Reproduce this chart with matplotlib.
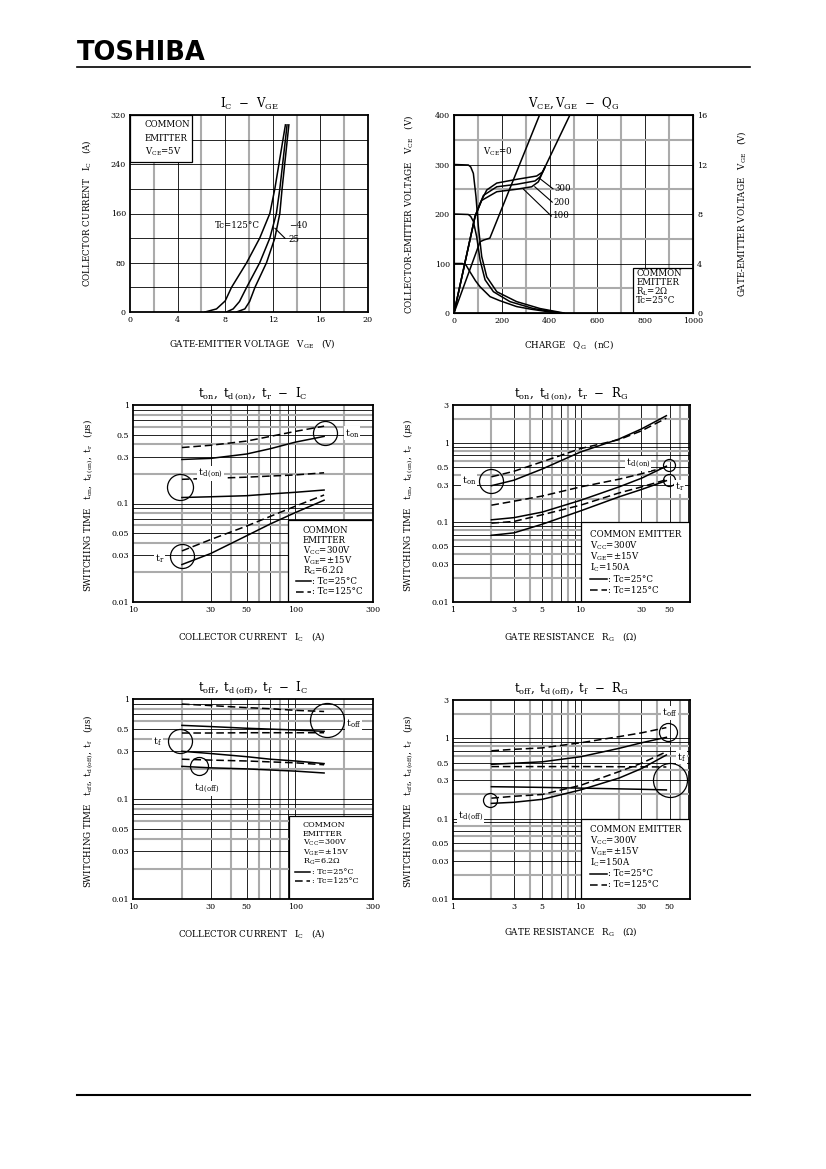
import matplotlib
matplotlib.use("Agg")
import matplotlib.pyplot as plt
from matplotlib.patches import Rectangle
from matplotlib.lines import Line2D
from matplotlib.ticker import NullLocator
import numpy as np

plt.rcParams['font.family'] = 'DejaVu Serif'
plt.rcParams['mathtext.fontset'] = 'dejavuserif'

# ---- IC - VGE ----
vge_125 = [6.3, 7.27, 8.0, 8.53, 9.8, 10.9, 11.75, 12.17, 13.06]
ic_125 = [0, 5, 18, 40, 80, 120, 160, 200, 304]
vge_25 = [8.1, 8.67, 9.2, 9.8, 10.9, 11.75, 12.3, 12.59, 13.2]
ic_25 = [0, 5, 17, 40, 80, 120, 160, 200, 304]
vge_m40 = [8.95, 9.65, 10.05, 10.5, 11.47, 12.17, 12.59, 12.78, 13.35]
ic_m40 = [0, 5, 17, 40, 80, 120, 160, 200, 304]

# ---- VCE, VGE - QG ----
q_vce300 = [0, 60, 70, 81, 92, 102, 116, 137, 179, 262, 360, 460]
vce300 = [300, 299, 295, 282, 235, 174, 114, 73, 43, 23, 9, 0]
q_vce200 = [0, 60, 70, 81, 95, 109, 130, 165, 234, 332, 450]
vce200 = [200, 199, 195, 185, 154, 107, 67, 43, 23, 9, 0]
q_vce100 = [0, 35, 50, 67, 90, 109, 151, 191, 262, 318, 430]
vce100 = [100, 100, 97, 83, 65, 53, 33, 25, 13, 8, 0]
q_vge0 = [0, 109, 125, 150, 358]
vge_vce0 = [0, 5.76, 5.9, 6.05, 16]
q_vge300 = [0, 88, 109, 137, 179, 262, 346, 371, 485]
vge_vce300 = [0, 7.8, 8.86, 9.94, 10.5, 10.8, 11.07, 11.4, 16]
q_vge200 = [0, 88, 123, 179, 262, 339, 360, 381]
vge_vce200 = [0, 7.8, 9.5, 10.2, 10.4, 10.67, 11.0, 11.8]
q_vge100 = [0, 88, 116, 179, 262, 325, 353, 378]
vge_vce100 = [0, 7.8, 9.1, 9.8, 10.0, 10.2, 10.6, 11.68]

# ---- ton, td(on), tr - IC ----
ic_sw = [20, 30, 50, 70, 100, 150]
ton_25 = [0.28, 0.287, 0.318, 0.36, 0.42, 0.48]
ton_125 = [0.37, 0.39, 0.43, 0.48, 0.54, 0.61]
tdon_25 = [0.115, 0.117, 0.12, 0.125, 0.13, 0.137]
tdon_125 = [0.176, 0.18, 0.185, 0.19, 0.195, 0.205]
tr_25 = [0.024, 0.031, 0.047, 0.062, 0.081, 0.108]
tr_125 = [0.033, 0.043, 0.059, 0.074, 0.094, 0.122]

# ---- ton, td(on), tr - RG ----
rg = [2, 3, 5, 10, 20, 30, 47]
ton_rg_25 = [0.29, 0.34, 0.47, 0.77, 1.12, 1.5, 2.2]
ton_rg_125 = [0.375, 0.44, 0.58, 0.85, 1.1, 1.42, 2.05]
tdon_rg_25 = [0.108, 0.115, 0.135, 0.19, 0.28, 0.36, 0.51]
tdon_rg_125 = [0.165, 0.185, 0.215, 0.28, 0.35, 0.41, 0.50]
tr_rg_25 = [0.069, 0.074, 0.095, 0.14, 0.21, 0.26, 0.335]
tr_rg_125 = [0.098, 0.103, 0.125, 0.165, 0.235, 0.28, 0.345]

# ---- toff, td(off), tf - IC ----
toff_125 = [0.89, 0.86, 0.82, 0.80, 0.77, 0.75]
toff_25 = [0.545, 0.53, 0.51, 0.50, 0.49, 0.475]
tf_125 = [0.457, 0.457, 0.46, 0.46, 0.46, 0.46]
tf_25 = [0.30, 0.285, 0.265, 0.25, 0.24, 0.226]
tdoff_125 = [0.25, 0.245, 0.24, 0.235, 0.23, 0.22]
tdoff_25 = [0.212, 0.205, 0.2, 0.195, 0.19, 0.182]

# ---- toff, td(off), tf - RG ----
toff_rg_125 = [0.70, 0.73, 0.76, 0.88, 1.05, 1.17, 1.36]
toff_rg_25 = [0.475, 0.49, 0.51, 0.59, 0.75, 0.88, 1.03]
tf_rg_125 = [0.445, 0.445, 0.445, 0.445, 0.443, 0.442, 0.44]
tf_rg_25 = [0.25, 0.248, 0.245, 0.24, 0.235, 0.232, 0.228]
tdoff_rg_125 = [0.18, 0.19, 0.2, 0.26, 0.385, 0.49, 0.68]
tdoff_rg_25 = [0.155, 0.16, 0.174, 0.228, 0.32, 0.42, 0.62]

W, H = 826, 1169
DASH = (0, (5, 2.5))
LW = 1.1
AXFS = 6.3
fig = plt.figure(figsize=(W / 100, H / 100), dpi=100)


def rect(l, t, r, b):
    return [l / W, 1 - b / H, (r - l) / W, (b - t) / H]


def is_gray(v):
    d = 10 ** np.floor(np.log10(v))
    return int(round(v / d)) % 2 == 0


def grid(ax, xs, ys, gx=lambda v: False, gy=lambda v: False):
    for v in xs:
        c, w = ('#ababab', 1.5) if gx(v) else ('k', 0.6)
        ax.axvline(v, color=c, lw=w, zorder=1)
    for v in ys:
        c, w = ('#ababab', 1.5) if gy(v) else ('k', 0.6)
        ax.axhline(v, color=c, lw=w, zorder=1)


def style(ax, title):
    for s in ax.spines.values():
        s.set_linewidth(1.3)
        s.set_zorder(6)
    ax.tick_params(length=0, pad=3, labelsize=5.8)
    ax.text(0.5, 1.058, title, transform=ax.transAxes, ha='center',
            va='center', fontsize=8.5)


def circ(ax, x, y, r):
    ax.plot([x], [y], 'o', ms=2 * r * 0.72, mfc='none', mec='k', mew=0.9,
            zorder=4)


def label(ax, x, y, s, ha='left', size=7):
    ax.text(x, y, s, ha=ha, va='center', fontsize=size, zorder=5,
            bbox=dict(fc='white', ec='none', pad=0.6))


def logaxes(pos, xlim, xt, ylim, yt):
    ax = fig.add_axes(rect(*pos))
    ax.set_xscale('log')
    ax.set_yscale('log')
    ax.set_xlim(*xlim)
    ax.set_ylim(*ylim)
    ax.set_xticks(xt, [f'{v:g}' for v in xt])
    ax.set_yticks(yt, [f'{v:g}' for v in yt])
    ax.xaxis.set_minor_locator(NullLocator())
    ax.yaxis.set_minor_locator(NullLocator())
    return ax


def legend_box(ax, x0, y0, lines, step, lx0, lx1, lt, fs=6.2):
    for i, s in enumerate(lines):
        ax.text(x0, y0 - i * step, s, transform=ax.transAxes, fontsize=fs,
                va='center', zorder=5)
    n = len(lines)
    for j, (ls, s) in enumerate([('-', ': Tc=25°C'), (DASH, ': Tc=125°C')]):
        y = y0 - (n + j) * step
        ax.plot([lx0, lx1], [y, y], transform=ax.transAxes, color='k',
                lw=1.1, ls=ls, zorder=5)
        ax.text(lt, y, s, transform=ax.transAxes, fontsize=fs, va='center',
                zorder=5)


# header
fig.text(77 / W, 1 - 53 / H, 'TOSHIBA', fontsize=18.5, fontweight='bold',
         family='DejaVu Sans', va='center', ha='left')
fig.add_artist(Line2D([77 / W, 750 / W], [1 - 67 / H] * 2, color='k', lw=1.2))
fig.add_artist(Line2D([77 / W, 750 / W], [1 - 1095 / H] * 2, color='k', lw=1.5))

# ================= IC - VGE =================
axA = fig.add_axes(rect(130, 115, 368, 312))
axA.set_xlim(0, 20)
axA.set_ylim(0, 320)
grid(axA, range(2, 20, 2), range(40, 320, 40), gx=lambda v: v % 4 == 2)
axA.set_xticks(range(0, 21, 4))
axA.set_yticks(range(0, 321, 80))
for vx, vy in [(vge_125, ic_125), (vge_25, ic_25), (vge_m40, ic_m40)]:
    axA.plot(vx, vy, color='k', lw=LW, zorder=3)
axA.add_patch(Rectangle((0, 244), 5.18, 76, fc='white', ec='k', lw=0.9, zorder=2))
for s, y in zip(['COMMON', 'EMITTER', r'$\mathrm{V_{CE}}$=5V'], [304, 282, 260]):
    axA.text(1.26, y, s, fontsize=6.2, va='center', zorder=5)
axA.text(7.14, 140, 'Tc=125°C', fontsize=6.2, va='center', zorder=5)
axA.text(13.4, 140, '−40', fontsize=6.2, va='center', zorder=5)
axA.text(13.3, 117, '25', fontsize=6.2, va='center', zorder=5)
axA.plot([13.03, 12.18], [119.7, 136], color='k', lw=0.8, zorder=3)
style(axA, r'$\mathrm{I_C}$  −  $\mathrm{V_{GE}}$')
axA.set_ylabel(r'COLLECTOR CURRENT   $\mathrm{I_C}$   (A)', fontsize=AXFS)
axA.yaxis.set_label_coords(-0.155, 0.5)
axA.set_xlabel(r'GATE-EMITTER VOLTAGE   $\mathrm{V_{GE}}$   (V)', fontsize=AXFS)
axA.xaxis.set_label_coords(0.514, -0.127)

# ================= VCE, VGE - QG =================
axB = fig.add_axes(rect(454, 115, 693, 313))
axB.set_xlim(0, 1000)
axB.set_ylim(0, 400)
grid(axB, range(100, 1000, 100), range(50, 400, 50),
     gx=lambda v: v % 200 == 100, gy=lambda v: v % 100 == 50)
axB.set_xticks(range(0, 1001, 200))
axB.set_yticks(range(0, 401, 100))
for q, v in [(q_vce300, vce300), (q_vce200, vce200), (q_vce100, vce100)]:
    axB.plot(q, v, color='k', lw=LW, zorder=3)
axB.add_patch(Rectangle((750, 0), 250, 90, fc='white', ec='k', lw=0.9, zorder=2))
for s, y in zip(['COMMON', 'EMITTER', r'$\mathrm{R_L}$=2Ω', 'Tc=25°C'],
                [80, 62, 43, 25]):
    axB.text(762, y, s, fontsize=6.2, va='center', zorder=5)
axB.text(121, 326, r'$\mathrm{V_{CE}}$=0', fontsize=6.2, va='center', zorder=5)
for s, (tx, ty), (px, py) in zip(['300', '200', '100'],
                                 [(414, 251), (411, 224), (407, 196)],
                                 [(358, 272), (338, 255), (291, 250)]):
    axB.plot([tx, px], [ty, py], color='k', lw=0.8, zorder=3)
    axB.text(tx + 6, ty, s, fontsize=6.2, va='center', zorder=5)
style(axB, r'$\mathrm{V_{CE}, V_{GE}}$  −  $\mathrm{Q_G}$')
axB2 = axB.twinx()
axB2.set_ylim(0, 16)
axB2.set_yticks(range(0, 17, 4))
axB2.tick_params(length=0, pad=3, labelsize=5.8)
for q, v in [(q_vge0, vge_vce0), (q_vge300, vge_vce300),
             (q_vge200, vge_vce200), (q_vge100, vge_vce100)]:
    axB2.plot(q, v, color='k', lw=LW, zorder=3)
axB.set_ylabel(r'COLLECTOR-EMITTER VOLTAGE   $\mathrm{V_{CE}}$   (V)', fontsize=AXFS)
axB.yaxis.set_label_coords(-0.163, 0.5)
axB2.set_ylabel(r'GATE-EMITTER VOLTAGE   $\mathrm{V_{GE}}$   (V)', fontsize=AXFS,
                rotation=90)
axB2.yaxis.set_label_coords(1.176, 0.5)
axB.set_xlabel(r'CHARGE   $\mathrm{Q_G}$   (nC)', fontsize=AXFS)
axB.xaxis.set_label_coords(0.48, -0.126)

ic_grid = [20, 30, 40, 50, 60, 70, 80, 90, 100, 200]
t_grid1 = [0.02, 0.03, 0.04, 0.05, 0.06, 0.07, 0.08, 0.09, 0.1,
           0.2, 0.3, 0.4, 0.5, 0.6, 0.7, 0.8, 0.9]
rg_grid = [2, 3, 4, 5, 6, 7, 8, 9, 10, 20, 30, 40, 50, 60, 70]
t_grid3 = t_grid1 + [1, 2]
ic_ticks = [10, 30, 50, 100, 300]
rg_ticks = [1, 3, 5, 10, 30, 50]
t_ticks1 = [0.01, 0.03, 0.05, 0.1, 0.3, 0.5, 1]
t_ticks3 = t_ticks1 + [3]

# ================= ton - IC =================
axC = logaxes((133, 405, 373, 602), (10, 300), ic_ticks, (0.01, 1), t_ticks1)
grid(axC, ic_grid, t_grid1, is_gray, is_gray)
axC.add_patch(Rectangle((90, 0.01), 210, 0.058, fc='white', ec='k', lw=0.9, zorder=2))
for y, ls in [(ton_25, '-'), (ton_125, DASH), (tdon_25, '-'), (tdon_125, DASH),
              (tr_25, '-'), (tr_125, DASH)]:
    axC.plot(ic_sw, y, color='k', lw=LW, ls=ls, zorder=3)
for x, y, r in [(152, 0.516, 12), (19.5, 0.147, 13), (20, 0.0293, 12)]:
    circ(axC, x, y, r)
label(axC, 202, 0.516, r'$\mathrm{t_{on}}$')
label(axC, 25.2, 0.203, r'$\mathrm{t_{d\,(on)}}$')
label(axC, 14.5, 0.0278, r'$\mathrm{t_r}$', ha='center')
legend_box(axC, 0.707, 0.365,
           ['COMMON', 'EMITTER', r'$\mathrm{V_{CC}}$=300V',
            r'$\mathrm{V_{GE}}$=±15V', r'$\mathrm{R_G}$=6.2Ω'],
           0.052, 0.679, 0.74, 0.747)
style(axC, r'$\mathrm{t_{on},\ t_{d\,(on)},\ t_r}$  −  $\mathrm{I_C}$')
axC.set_ylabel(r'SWITCHING TIME   $\mathrm{t_{on},\ t_{d\,(on)},\ t_r}$   ($\mu$s)',
               fontsize=AXFS)
axC.yaxis.set_label_coords(-0.158, 0.49)
axC.set_xlabel(r'COLLECTOR CURRENT   $\mathrm{I_C}$   (A)', fontsize=AXFS)
axC.xaxis.set_label_coords(0.497, -0.142)

# ================= ton - RG =================
axD = logaxes((453, 405, 690, 602), (1, 72), rg_ticks, (0.01, 3), t_ticks3)
grid(axD, rg_grid, t_grid3, is_gray, is_gray)
axD.add_patch(Rectangle((10, 0.01), 62, 0.09, fc='white', ec='k', lw=0.9, zorder=2))
for y, ls in [(ton_rg_25, '-'), (ton_rg_125, DASH), (tdon_rg_25, '-'),
              (tdon_rg_125, DASH), (tr_rg_25, '-'), (tr_rg_125, DASH)]:
    axD.plot(rg, y, color='k', lw=LW, ls=ls, zorder=3)
for x, y, r in [(2.0, 0.336, 12), (49, 0.527, 6), (49, 0.342, 6)]:
    circ(axD, x, y, r)
label(axD, 1.34, 0.338, r'$\mathrm{t_{on}}$', ha='center')
label(axD, 28.2, 0.555, r'$\mathrm{t_{d\,(on)}}$', ha='center')
label(axD, 60, 0.282, r'$\mathrm{t_r}$', ha='center')
legend_box(axD, 0.578, 0.344,
           ['COMMON EMITTER', r'$\mathrm{V_{CC}}$=300V',
            r'$\mathrm{V_{GE}}$=±15V', r'$\mathrm{I_C}$=150A'],
           0.057, 0.578, 0.648, 0.655)
style(axD, r'$\mathrm{t_{on},\ t_{d\,(on)},\ t_r}$  −  $\mathrm{R_G}$')
axD.set_ylabel(r'SWITCHING TIME   $\mathrm{t_{on},\ t_{d\,(on)},\ t_r}$   ($\mu$s)',
               fontsize=AXFS)
axD.yaxis.set_label_coords(-0.16, 0.49)
axD.set_xlabel(r'GATE RESISTANCE   $\mathrm{R_G}$   ($\Omega$)', fontsize=AXFS)
axD.xaxis.set_label_coords(0.497, -0.142)

# ================= toff - IC =================
axE = logaxes((133, 699, 373, 899), (10, 300), ic_ticks, (0.01, 1), t_ticks1)
grid(axE, ic_grid, t_grid1, is_gray, is_gray)
axE.add_patch(Rectangle((91, 0.01), 209, 0.057, fc='white', ec='k', lw=0.9, zorder=2))
for y, ls in [(toff_125, DASH), (toff_25, '-'), (tf_125, DASH), (tf_25, '-'),
              (tdoff_125, DASH), (tdoff_25, '-')]:
    axE.plot(ic_sw, y, color='k', lw=LW, ls=ls, zorder=3)
for x, y, r in [(157, 0.617, 17), (19.5, 0.378, 12), (25.5, 0.214, 9)]:
    circ(axE, x, y, r)
label(axE, 204, 0.571, r'$\mathrm{t_{off}}$')
label(axE, 14.2, 0.378, r'$\mathrm{t_f}$', ha='center')
label(axE, 28.4, 0.128, r'$\mathrm{t_{d\,(off)}}$', ha='center')
legend_box(axE, 0.707, 0.372,
           ['COMMON', 'EMITTER', r'$\mathrm{V_{CC}}$=300V',
            r'$\mathrm{V_{GE}}$=±15V', r'$\mathrm{R_G}$=6.2Ω'],
           0.047, 0.675, 0.737, 0.745, fs=5.8)
style(axE, r'$\mathrm{t_{off},\ t_{d\,(off)},\ t_f}$  −  $\mathrm{I_C}$')
axE.set_ylabel(r'SWITCHING TIME   $\mathrm{t_{off},\ t_{d\,(off)},\ t_f}$   ($\mu$s)',
               fontsize=AXFS)
axE.yaxis.set_label_coords(-0.158, 0.49)
axE.set_xlabel(r'COLLECTOR CURRENT   $\mathrm{I_C}$   (A)', fontsize=AXFS)
axE.xaxis.set_label_coords(0.497, -0.138)

# ================= toff - RG =================
axF = logaxes((453, 700, 690, 899), (1, 72), rg_ticks, (0.01, 3), t_ticks3)
grid(axF, rg_grid, t_grid3, is_gray, is_gray)
axF.add_patch(Rectangle((10, 0.01), 62, 0.09, fc='white', ec='k', lw=0.9, zorder=2))
for y, ls in [(toff_rg_125, DASH), (toff_rg_25, '-'), (tf_rg_125, DASH),
              (tf_rg_25, '-'), (tdoff_rg_125, DASH), (tdoff_rg_25, '-')]:
    axF.plot(rg, y, color='k', lw=LW, ls=ls, zorder=3)
for x, y, r in [(48.6, 1.2, 9), (50, 0.30, 17), (1.95, 0.17, 7)]:
    circ(axF, x, y, r)
label(axF, 50, 2.07, r'$\mathrm{t_{off}}$', ha='center')
label(axF, 62, 0.58, r'$\mathrm{t_f}$', ha='center')
label(axF, 1.38, 0.106, r'$\mathrm{t_{d\,(off)}}$', ha='center')
legend_box(axF, 0.578, 0.347,
           ['COMMON EMITTER', r'$\mathrm{V_{CC}}$=300V',
            r'$\mathrm{V_{GE}}$=±15V', r'$\mathrm{I_C}$=150A'],
           0.055, 0.578, 0.65, 0.655)
style(axF, r'$\mathrm{t_{off},\ t_{d\,(off)},\ t_f}$  −  $\mathrm{R_G}$')
axF.set_ylabel(r'SWITCHING TIME   $\mathrm{t_{off},\ t_{d\,(off)},\ t_f}$   ($\mu$s)',
               fontsize=AXFS)
axF.yaxis.set_label_coords(-0.16, 0.49)
axF.set_xlabel(r'GATE RESISTANCE   $\mathrm{R_G}$   ($\Omega$)', fontsize=AXFS)
axF.xaxis.set_label_coords(0.497, -0.13)

fig.savefig('out.png', dpi=100)
